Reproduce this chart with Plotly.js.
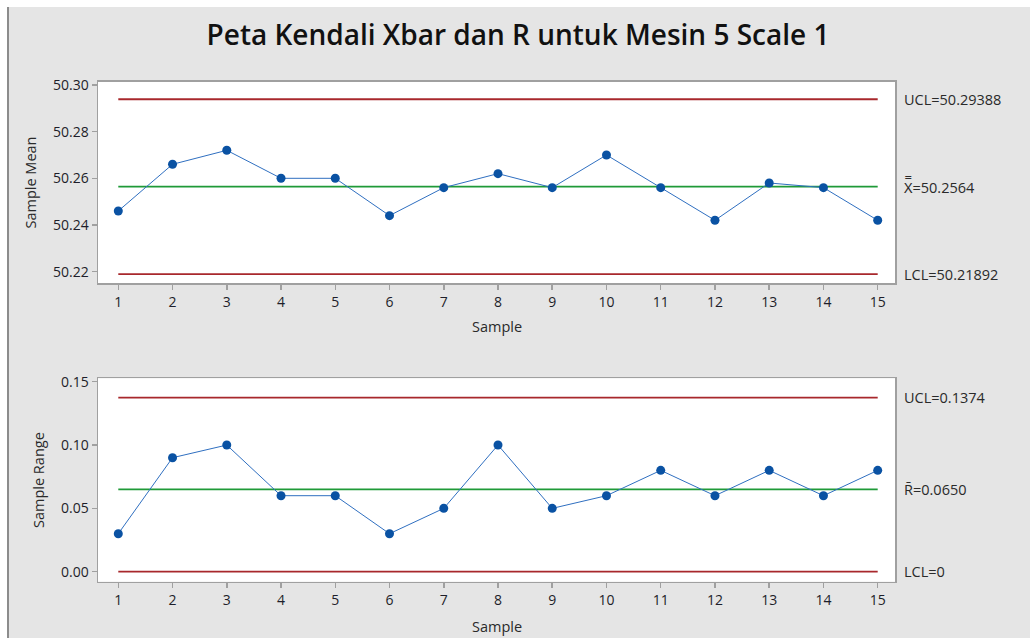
<!DOCTYPE html>
<html>
<head>
<meta charset="utf-8">
<script src="https://cdn.plot.ly/plotly-3.0.1.min.js"></script>
<style>html,body{margin:0;padding:0;background:#e5e5e5;}#chart{width:1030px;height:638px;}</style>
</head>
<body>
<div id="chart"></div>
<script>
// ---- data ----
const samples = [1,2,3,4,5,6,7,8,9,10,11,12,13,14,15];
const sampleMeans = [50.246,50.266,50.272,50.260,50.260,50.244,50.256,50.262,50.256,50.270,50.256,50.242,50.258,50.256,50.242];
const sampleRanges = [0.03,0.09,0.10,0.06,0.06,0.03,0.05,0.10,0.05,0.06,0.08,0.06,0.08,0.06,0.08];
const xbarLimits = {ucl: 50.29388, center: 50.2564, lcl: 50.21892};
const rLimits = {ucl: 0.1374, center: 0.0650, lcl: 0};
const xbarLabels = ["UCL=50.29388", "X\u033F=50.2564", "LCL=50.21892"];
const rLabels = ["UCL=0.1374", "R\u0304=0.0650", "LCL=0"];
const meanTicks = [50.22,50.24,50.26,50.28,50.30];
const rangeTicks = [0.00,0.05,0.10,0.15];

const W = 1030, H = 638;
const FONT = "Open Sans, Noto Sans, sans-serif";
const RED = "#a8282c", GREEN = "#1f9a38", BLUE = "#0a52a3", LINEBLUE = "#2f6fc0";
const first = samples[0], last = samples[samples.length-1];

function hline(y, color, xa, ya){
  return {x:[first,last], y:[y,y], mode:'lines', line:{color:color,width:1.8}, xaxis:xa, yaxis:ya, hoverinfo:'skip', showlegend:false};
}
const traces = [
  hline(xbarLimits.ucl, RED, 'x', 'y'),
  hline(xbarLimits.lcl, RED, 'x', 'y'),
  hline(xbarLimits.center, GREEN, 'x', 'y'),
  {x:samples, y:sampleMeans, mode:'lines+markers', line:{color:LINEBLUE,width:1}, marker:{color:BLUE,size:9}, xaxis:'x', yaxis:'y', showlegend:false},
  hline(rLimits.ucl, RED, 'x2', 'y2'),
  hline(rLimits.lcl, RED, 'x2', 'y2'),
  hline(rLimits.center, GREEN, 'x2', 'y2'),
  {x:samples, y:sampleRanges, mode:'lines+markers', line:{color:LINEBLUE,width:1}, marker:{color:BLUE,size:9}, xaxis:'x2', yaxis:'y2', showlegend:false}
];

const xd = [98/W, 895/W];
const axisCommon = {
  showgrid:false, zeroline:false, showline:true, mirror:true, linecolor:'#a0a0a0', linewidth:1.5,
  ticks:'outside', ticklen:5, tickwidth:1.5, tickcolor:'#a0a0a0',
  tickfont:{family:FONT, size:14, color:'#1e1e2a'}
};
const xaxisBase = Object.assign({}, axisCommon, {tickmode:'array', tickvals:samples, ticktext:samples.map(String), range:[0.626,15.319], domain:xd});

const labelFont = {family:FONT, size:14.5, color:'#2a2a2a'};
const annotations = [];
const xl = 902/W;
[xbarLimits.ucl, xbarLimits.center, xbarLimits.lcl].forEach((v,i)=>annotations.push({xref:'paper', yref:'y', x:xl, y:v, text:xbarLabels[i], showarrow:false, xanchor:'left', yanchor:'middle', font:labelFont}));
[rLimits.ucl, rLimits.center, rLimits.lcl].forEach((v,i)=>annotations.push({xref:'paper', yref:'y2', x:xl, y:v, text:rLabels[i], showarrow:false, xanchor:'left', yanchor:'middle', font:labelFont}));
const titleFont = {family:FONT, size:14.5, color:'#2a2a2a'};
annotations.push({xref:'paper', yref:'paper', x:496.5/W, y:1-326/H, text:'Sample', showarrow:false, xanchor:'center', yanchor:'middle', font:titleFont});
annotations.push({xref:'paper', yref:'paper', x:496.5/W, y:1-626/H, text:'Sample', showarrow:false, xanchor:'center', yanchor:'middle', font:titleFont});
annotations.push({xref:'paper', yref:'paper', x:30/W, y:1-182.5/H, text:'Sample Mean', textangle:-90, showarrow:false, xanchor:'center', yanchor:'middle', font:titleFont});
annotations.push({xref:'paper', yref:'paper', x:38/W, y:1-480/H, text:'Sample Range', textangle:-90, showarrow:false, xanchor:'center', yanchor:'middle', font:titleFont});

const layout = {
  width:W, height:H,
  margin:{l:0,r:0,t:0,b:0},
  paper_bgcolor:'#e5e5e5', plot_bgcolor:'#ffffff',
  showlegend:false,
  title:{text:'Peta Kendali Xbar dan R untuk Mesin 5 Scale 1', x:518/W, xanchor:'center', y:1-35/H, yanchor:'middle', font:{family:FONT, size:28, color:'#111111', weight:600}},
  xaxis: Object.assign({}, xaxisBase, {anchor:'y'}),
  xaxis2: Object.assign({}, xaxisBase, {anchor:'y2'}),
  yaxis: Object.assign({}, axisCommon, {domain:[1-283.3/H, 1-81.7/H], range:[50.2150,50.3014], tickmode:'array', tickvals:meanTicks, ticktext:meanTicks.map(v=>v.toFixed(2)), anchor:'x'}),
  yaxis2: Object.assign({}, axisCommon, {domain:[1-581.7/H, 1-378.3/H], range:[-0.0079,0.1527], tickmode:'array', tickvals:rangeTicks, ticktext:rangeTicks.map(v=>v.toFixed(2)), anchor:'x2'}),
  annotations: annotations,
  shapes:[
    {type:'rect', xref:'paper', yref:'paper', x0:0, x1:7/W, y0:0, y1:1, fillcolor:'#ffffff', line:{width:0}, layer:'below'},
    {type:'rect', xref:'paper', yref:'paper', x0:0, x1:1, y0:1-7/H, y1:1, fillcolor:'#ffffff', line:{width:0}, layer:'below'},
    {type:'line', xref:'paper', yref:'paper', x0:8/W, x1:8/W, y0:0, y1:1-7/H, line:{color:'#8c8c8c', width:2}, layer:'below'}
  ]
};
Plotly.newPlot('chart', traces, layout, {staticPlot:true, displayModeBar:false});
</script>
</body>
</html>
